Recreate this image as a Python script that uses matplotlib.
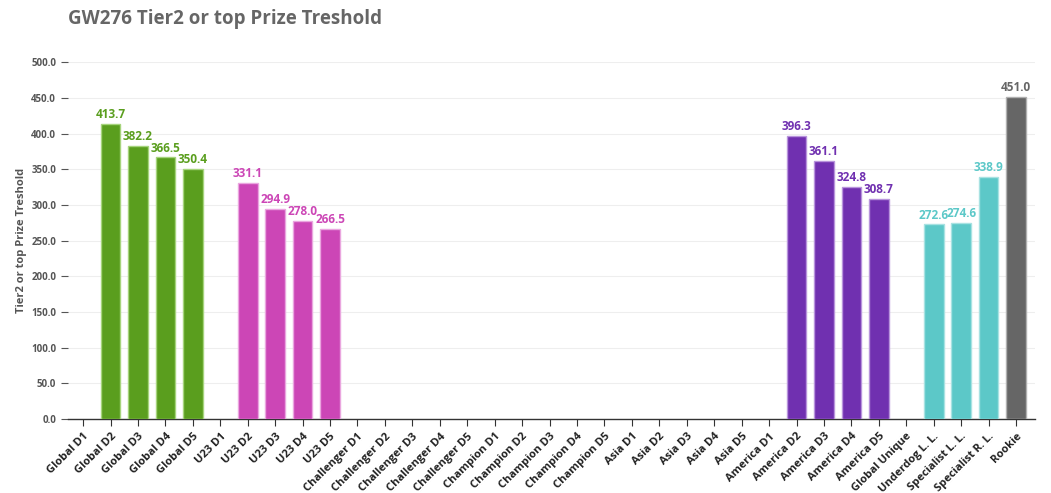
import numpy as np
import matplotlib.pyplot as plt

plt.rcParams['font.family'] = ['Open Sans', 'DejaVu Sans']

categories = [
    'Global D1', 'Global D2', 'Global D3', 'Global D4', 'Global D5',
    'U23 D1', 'U23 D2', 'U23 D3', 'U23 D4', 'U23 D5',
    'Challenger D1', 'Challenger D2', 'Challenger D3', 'Challenger D4', 'Challenger D5',
    'Champion D1', 'Champion D2', 'Champion D3', 'Champion D4', 'Champion D5',
    'Asia D1', 'Asia D2', 'Asia D3', 'Asia D4', 'Asia D5',
    'America D1', 'America D2', 'America D3', 'America D4', 'America D5',
    'Global Unique', 'Underdog L. L.', 'Specialist L. L.', 'Specialist R. L.', 'Rookie',
]
nan = np.nan
values = [
    nan, 413.7, 382.2, 366.5, 350.4,
    nan, 331.1, 294.9, 278.0, 266.5,
    nan, nan, nan, nan, nan,
    nan, nan, nan, nan, nan,
    nan, nan, nan, nan, nan,
    nan, 396.3, 361.1, 324.8, 308.7,
    nan, 272.6, 274.6, 338.9, 451.0,
]
groups = ['Global'] * 5 + ['U23'] * 5 + ['Challenger'] * 5 + ['Champion'] * 5 + \
         ['Asia'] * 5 + ['America'] * 5 + ['Other', 'Special', 'Special', 'Special', 'Rookie']
group_colors = {
    'Global': '#5a9e1e', 'U23': '#cc46b6', 'Challenger': '#888888', 'Champion': '#888888',
    'Asia': '#888888', 'America': '#7030b0', 'Other': '#888888', 'Special': '#5cc8c8',
    'Rookie': '#666666',
}
edge_colors = {
    'Global': '#a6d47c', 'U23': '#eaa6df', 'America': '#b894dc', 'Special': '#a8e2e2',
    'Rookie': '#b0b0b0',
}

fig = plt.figure(figsize=(10.51, 4.93), dpi=100)
ax = fig.add_axes([0.0647, 0.150, 0.9203, 0.724])

x = np.arange(len(categories))
for i, (v, g) in enumerate(zip(values, groups)):
    if np.isnan(v):
        continue
    c = group_colors[g]
    ax.bar(x[i], v, width=0.72, color=c, edgecolor=edge_colors.get(g, c), linewidth=1.0, zorder=3)
    ax.text(x[i], v + 4, f'{v:.1f}', ha='center', va='bottom', color=c,
            fontsize=8.5, fontweight='bold', zorder=4)

ax.set_xlim(-0.55, 34.7)
ax.set_ylim(0, 500)
ax.set_yticks(np.arange(0, 501, 50))
ax.set_yticklabels([f'{t:.1f}' for t in np.arange(0, 501, 50)])
ax.set_xticks(x)
ax.set_xticklabels(categories, rotation=45, ha='right', rotation_mode='anchor',
                   fontsize=8, fontweight='bold', color='#222222')
ax.tick_params(axis='y', labelsize=7, labelcolor='#555555', length=5, color='#555555', width=0.8)
for lab in ax.get_yticklabels():
    lab.set_fontweight('bold')
ax.tick_params(axis='x', length=5, color='#333333', width=0.8)

ax.grid(axis='y', color='#eeeeee', linewidth=0.8, zorder=0)
for s in ['top', 'right', 'left']:
    ax.spines[s].set_visible(False)
ax.spines['bottom'].set_color('#333333')
ax.spines['bottom'].set_linewidth(1.0)

ax.set_ylabel('Tier2 or top Prize Treshold', fontsize=8, fontweight='bold', color='#555555', labelpad=3)
fig.text(0.0647, 0.962, 'GW276 Tier2 or top Prize Treshold', fontsize=13.5, fontweight='bold',
         color='#666666', va='center', ha='left')

fig.savefig('out.png', dpi=100)
